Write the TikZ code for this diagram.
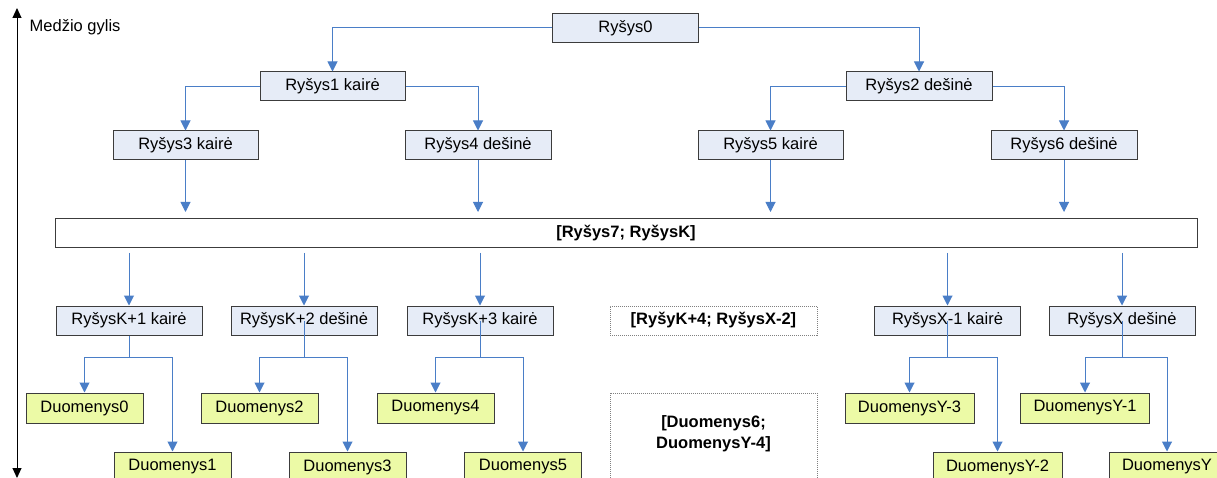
\documentclass[tikz,border=0pt]{standalone}
\usepackage{fontspec}
\setmainfont{Liberation Sans}
\usetikzlibrary{arrows.meta}
\definecolor{boxfill}{RGB}{230,236,247}
\definecolor{datafill}{RGB}{236,250,166}
\definecolor{boxline}{RGB}{60,60,60}
\definecolor{connblue}{RGB}{74,126,199}
\tikzset{
  base/.style={inner sep=0pt, font=\fontsize{16.5}{19}\selectfont, align=center},
  linkbox/.style={base, draw=boxline, line width=1pt, fill=boxfill, minimum height=29pt},
  databox/.style={base, draw=boxline, line width=1pt, fill=datafill, minimum height=30pt},
  rangebox/.style={base, draw=gray, line width=1pt, dash pattern=on 1pt off 1pt, font=\fontsize{16.5}{19}\selectfont\bfseries},
  conn/.style={draw=connblue, line width=1pt, -{Triangle[width=10pt,length=10pt]}},
  plain/.style={draw=connblue, line width=1pt},
  axis/.style={draw=black, line width=1pt, {Triangle[width=9pt,length=10pt]}-{Triangle[width=9pt,length=10pt]}}
}
\begin{document}
\begin{tikzpicture}[x=1pt,y=-1pt]
\useasboundingbox (0,0) rectangle (1217,478);
\clip (0,0) rectangle (1217,478);
\fill[white] (0,0) rectangle (1217,478);

% axis
\coordinate (axtop) at (17,8);
\coordinate (axbot) at (17,478);
\draw[axis] (axbot) -- (axtop);
\node[base, anchor=west] (axlabel) at (29.5,27) {Medžio gylis};

% level nodes
\node[linkbox, minimum width=146pt] (r0) at (625.5,28) {Ryšys0};
\node[linkbox, minimum width=145pt] (r1) at (332.5,86.5) {Ryšys1 kairė};
\node[linkbox, minimum width=146pt] (r2) at (919,86.5) {Ryšys2 dešinė};
\node[linkbox, minimum width=145pt] (r3) at (185.5,145.5) {Ryšys3 kairė};
\node[linkbox, minimum width=146pt] (r4) at (478,145.5) {Ryšys4 dešinė};
\node[linkbox, minimum width=145pt] (r5) at (770.5,145.5) {Ryšys5 kairė};
\node[linkbox, minimum width=146pt] (r6) at (1064,145.5) {Ryšys6 dešinė};

\node[base, draw=boxline, line width=1pt, fill=white, minimum width=1142pt, minimum height=29pt, font=\fontsize{16.5}{19}\selectfont\bfseries] (wide) at (626,233.5) {[Ryšys7; RyšysK]};

\node[linkbox, minimum width=146pt] (k1) at (129,320.5) {RyšysK+1 kairė};
\node[linkbox, minimum width=146pt] (k2) at (304,320.5) {RyšysK+2 dešinė};
\node[linkbox, minimum width=146pt] (k3) at (480,320.5) {RyšysK+3 kairė};
\node[rangebox, minimum width=207pt, minimum height=29pt] (kdots) at (713.5,320.5) {[RyšyK+4; RyšysX-2]};
\node[linkbox, minimum width=146pt] (x1) at (947.5,320.5) {RyšysX-1 kairė};
\node[linkbox, minimum width=146pt] (xx) at (1122,320.5) {RyšysX dešinė};

\node[databox, minimum width=117pt] (d0) at (84.5,408) {Duomenys0};
\node[databox, minimum width=117pt] (d1) at (172.5,467) {Duomenys1};
\node[databox, minimum width=117pt] (d2) at (259.5,408) {Duomenys2};
\node[databox, minimum width=117pt] (d3) at (347.5,467) {Duomenys3};
\node[databox, minimum width=117pt] (d4) at (435.5,408) {Duomenys4};
\node[databox, minimum width=117pt] (d5) at (523,467) {Duomenys5};
\node[rangebox, minimum width=207pt, minimum height=100pt] (ddots) at (713.5,443) {};
\node[base, font=\fontsize{16.5}{21}\selectfont\bfseries] (ddotslabel) at (713.5,434) {[Duomenys6;\\DuomenysY-4]};
\node[databox, minimum width=129pt] (y3) at (909.5,408) {DuomenysY-3};
\node[databox, minimum width=129pt] (y2) at (997.5,467) {DuomenysY-2};
\node[databox, minimum width=129pt] (y1) at (1085,408) {DuomenysY-1};
\node[databox, minimum width=116pt] (y0) at (1167,467) {DuomenysY};

% upper tree
\draw[conn] (r0.west) -| (r1.north);
\draw[conn] (r0.east) -| (r2.north);
\draw[conn] (r1.west) -| (r3.north);
\draw[conn] (r1.east) -| (r4.north);
\draw[conn] (r2.west) -| (r5.north);
\draw[conn] (r2.east) -| (r6.north);

% into the range box
\coordinate (a3) at (185.5,212);
\coordinate (a4) at (478,212);
\coordinate (a5) at (770.5,212);
\coordinate (a6) at (1064,212);
\draw[conn] (r3.south) -- (a3);
\draw[conn] (r4.south) -- (a4);
\draw[conn] (r5.south) -- (a5);
\draw[conn] (r6.south) -- (a6);

% out of the range box
\coordinate (b1) at (129,253);
\coordinate (b2) at (304,253);
\coordinate (b3) at (480,253);
\coordinate (b4) at (947.5,253);
\coordinate (b5) at (1122,253);
\draw[conn] (b1) -- (k1.north);
\draw[conn] (b2) -- (k2.north);
\draw[conn] (b3) -- (k3.north);
\draw[conn] (b4) -- (x1.north);
\draw[conn] (b5) -- (xx.north);

% to the data
\coordinate (j1) at (129,357.5);
\coordinate (j2) at (304,357.5);
\coordinate (j3) at (480,357.5);
\coordinate (j4) at (947.5,357.5);
\coordinate (j5) at (1122,357.5);
\draw[plain] (k1.south) -- (j1);
\draw[plain] (k2.center) -- (j2);
\draw[plain] (k3.center) -- (j3);
\draw[plain] (x1.center) -- (j4);
\draw[plain] (xx.center) -- (j5);
\draw[conn] (j1) -| (d0.north);
\draw[conn] (j1) -| (d1.north);
\draw[conn] (j2) -| (d2.north);
\draw[conn] (j2) -| (d3.north);
\draw[conn] (j3) -| (d4.north);
\draw[conn] (j3) -| (d5.north);
\draw[conn] (j4) -| (y3.north);
\draw[conn] (j4) -| (y2.north);
\draw[conn] (j5) -| (y1.north);
\draw[conn] (j5) -| (y0.north);
\end{tikzpicture}
\end{document}
